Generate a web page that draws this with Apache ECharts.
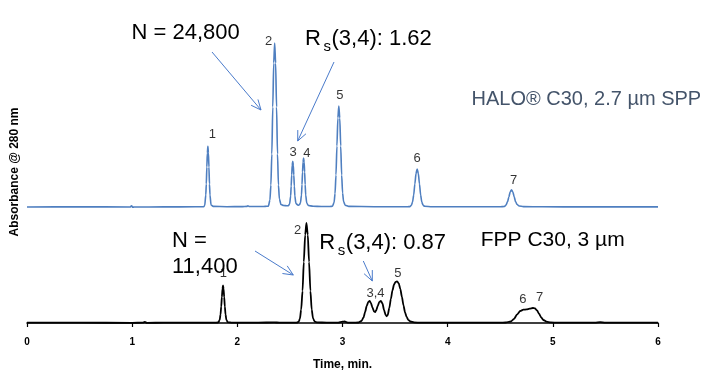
<!DOCTYPE html>
<html><head><meta charset="utf-8">
<script src="https://cdn.jsdelivr.net/npm/echarts@6/dist/echarts.min.js"></script>
<style>html,body{margin:0;padding:0;background:#fff}#c{width:714px;height:374px}</style>
</head><body><div id="c"></div>
<script>
// ---------- data ----------
const timeTicks = [0, 1, 2, 3, 4, 5, 6];

// HALO C30, 2.7 um SPP trace: [time (min), absorbance (arb.)]
const haloTrace = [
  [0,0],[0.5,0.2],[0.98,0],[0.995,1.2],[1.005,-0.3],[1.02,0],[1.3,0.1],[1.6,0.2],[1.68,0.3],
  [1.69,1.5],[1.70,12],[1.705,23],[1.71,40],[1.715,54],[1.72,60.6],[1.725,54],[1.73,40],[1.735,23],[1.74,12],[1.75,2],[1.77,0.6],
  [1.9,0.3],[2.05,0.4],[2.09,0.6],[2.1,1.3],[2.115,0.5],[2.25,0.5],[2.28,0.7],
  [2.295,0.8],[2.31,7],[2.319,22],[2.328,53],[2.337,100],[2.346,144],[2.355,164],[2.364,144],[2.373,100],[2.382,53],[2.391,22],[2.40,8],[2.415,2.5],
  [2.44,1.5],[2.47,1.2],
  [2.485,1.3],[2.497,3],[2.507,11],[2.512,21],[2.517,32],[2.522,42],[2.527,45.6],[2.532,42],[2.537,32],[2.542,21],[2.547,11],[2.557,3.5],
  [2.578,1.7],
  [2.59,2.2],[2.60,4],[2.61,12],[2.615,22.5],[2.62,35],[2.625,45],[2.63,49],[2.635,45],[2.64,35],[2.645,22.5],[2.65,12],[2.66,4],[2.675,1.5],
  [2.72,0.8],[2.8,0.5],[2.88,0.5],
  [2.905,0.8],[2.92,4.5],[2.929,13.5],[2.938,32],[2.947,61],[2.956,89],[2.965,101],[2.974,89],[2.983,61],[2.992,32],[3.001,14],[3.01,5.5],[3.025,1.8],
  [3.06,0.6],[3.3,0.3],[3.5,0.3],[3.62,0.3],
  [3.64,0.4],[3.655,1.7],[3.666,5],[3.677,12],[3.688,23],[3.699,33.5],[3.71,38],[3.721,33.5],[3.732,23],[3.743,12],[3.754,5],[3.765,2],[3.78,0.7],
  [3.85,0.3],[4.2,0.2],[4.5,0.3],
  [4.54,0.5],[4.555,2],[4.57,5.5],[4.582,10],[4.594,15],[4.607,17.3],[4.62,15],[4.632,10.5],[4.645,5.5],[4.66,2.5],[4.68,1],[4.72,0.4],
  [4.9,0.2],[5.3,0.1],[5.7,0.1],[6.0,0.1]
];

// FPP C30, 3 um trace
const fppTrace = [
  [0,0.3],[0.5,0.3],[1.0,0.2],[1.1,0.3],[1.12,1],[1.14,0.2],[1.3,0.3],[1.6,0.3],[1.8,0.4],
  [1.82,0.6],[1.832,3],[1.84,8.5],[1.847,16.5],[1.853,26],[1.859,34],[1.864,37.7],[1.869,34],[1.875,26],[1.881,16.5],[1.888,8.5],[1.896,3],[1.91,0.8],
  [1.95,0.4],[2.2,0.4],[2.35,0.6],[2.4,0.4],[2.55,0.4],
  [2.57,0.5],[2.585,1.5],[2.595,4.4],[2.607,13.5],[2.62,32],[2.632,61],[2.645,88],[2.657,100],[2.67,88],[2.682,61],[2.695,32],[2.707,13.5],[2.72,4.5],[2.735,1.5],[2.76,0.6],
  [2.85,0.4],[2.96,0.3],[3.0,1.3],[3.02,1.5],[3.05,0.4],[3.1,0.4],
  [3.15,0.5],[3.18,2],[3.2,5.5],[3.215,11],[3.23,17],[3.245,21],[3.257,22],[3.27,20],[3.285,15.5],[3.3,11.5],[3.31,11],[3.32,12.5],[3.335,17],[3.35,21],[3.365,22],[3.38,19.5],[3.395,13],[3.41,8],[3.42,6.7],
  [3.43,8],[3.445,15],[3.46,24],[3.475,32.5],[3.49,38.5],[3.505,41.2],[3.52,41.7],[3.535,39.5],[3.55,34],[3.565,26],[3.58,17.5],[3.595,10.5],[3.61,6],[3.625,3.2],[3.645,1.5],[3.68,0.6],[3.75,0.3],
  [3.9,0.3],[4.3,0.3],[4.5,0.4],
  [4.55,0.5],[4.6,1.5],[4.63,4],[4.66,8.5],[4.69,12],[4.72,13.3],[4.75,13.6],[4.78,14.3],[4.81,15],[4.83,14.6],[4.85,12.5],[4.87,9],[4.89,5.5],[4.91,3],[4.94,1.3],[4.98,0.6],[5.05,0.3],
  [5.2,0.3],[5.4,0.4],[5.45,0.8],[5.5,0.4],[5.8,0.3],[6.0,0.3]
];

// peak labels: [label, time, height]
const haloPeaks = [['1',1.72,60.6],['2',2.355,164],['3',2.527,45.6],['4',2.63,49],['5',2.965,101],['6',3.71,38],['7',4.607,17.3]];
const fppPeaks  = [['1',1.864,37.7],['2',2.657,100],['3,4',3.257,22],['5',3.52,41.7],['6',4.73,13.4],['7',4.82,15]];

// ---------- layout / style ----------
const haloLabelOffset = [[4.6,-11.7],[-6,-1.6],[0.4,-9],[3.4,-4.3],[1,-11],[0,-10.3],[2,-9.3]];
const fppLabelOffset  = [[0.3,-12],[-8.7,7.3],[6,-7.7],[0.6,-8.3],[-1.6,-10.3],[5.7,-10.4]];
const BLUE = '#4f7fc0';
const ARROW = '#4a7bcb';
const FONT = '"Liberation Sans", Arial, sans-serif';

function labelSeries(peaks, offs, xi, yi) {
  return {
    type: 'scatter', xAxisIndex: xi, yAxisIndex: yi, z: 5,
    symbol: 'circle', symbolSize: 0.001, itemStyle: { color: 'rgba(0,0,0,0)' },
    silent: true,
    data: peaks.map((p, i) => ({
      value: [p[1], p[2]],
      label: { show: true, position: 'inside', formatter: p[0], offset: offs[i],
               color: '#000', fontSize: 13, fontFamily: FONT }
    }))
  };
}

function arrow(x1, y1, x2, y2) {
  const dx = x2 - x1, dy = y2 - y1, L = Math.hypot(dx, dy), ux = dx / L, uy = dy / L;
  const hl = 10, hw = 4.5, bx = x2 - ux * hl, by = y2 - uy * hl;
  return [
    { type: 'line', shape: { x1, y1, x2, y2 }, style: { stroke: ARROW, lineWidth: 1 } },
    { type: 'polyline', shape: { points: [[bx - uy * hw, by + ux * hw], [x2, y2], [bx + uy * hw, by - ux * hw]] },
      style: { stroke: ARROW, lineWidth: 1, fill: null } }
  ];
}
function txt(s, x, y, size, color, weight) {
  return { type: 'text', x, y, z: 10,
    style: { text: s, font: (weight || 'normal') + ' ' + size + 'px ' + FONT, fill: color || '#000',
             align: 'left', verticalAlign: 'middle', textAlign: 'left', textVerticalAlign: 'middle' } };
}

const chart = echarts.init(document.getElementById('c'), null, { renderer: 'canvas' });
const graphics = [].concat(
  arrow(212, 52, 261, 110),
  arrow(334, 62, 297.7, 141),
  arrow(255, 251, 293.3, 275),
  arrow(363.3, 261, 372.3, 281),
  [
    txt('N = 24,800', 131.5, 33, 22),
    txt('R', 305, 39, 22), txt('s', 323.5, 46.5, 15), txt('(3,4): 1.62', 331.5, 39, 22),
    txt('HALO\u00AE C30, 2.7 \u00B5m SPP', 471.5, 99.7, 20, '#44546a'),
    txt('N =', 172, 240.6, 22),
    txt('11,400', 172, 267.3, 22),
    txt('R', 319.3, 243, 22), txt('s', 337.8, 250.5, 15), txt('(3,4): 0.87', 345.8, 243, 22),
    txt('FPP C30, 3 \u00B5m', 480.7, 240, 21),
    { type: 'text', x: 15, y: 172, rotation: Math.PI / 2, z: 10,
      style: { text: 'Absorbance @ 280 nm', font: 'bold 12px ' + FONT, fill: '#000',
               align: 'center', verticalAlign: 'middle', textAlign: 'center', textVerticalAlign: 'middle' } }
  ]
);

chart.setOption({
  animation: false,
  backgroundColor: '#fff',
  grid: [
    { left: 27, right: 56, top: 40, height: 170 },
    { left: 27, right: 56, top: 215, height: 111 }
  ],
  xAxis: [
    { gridIndex: 0, type: 'value', min: 0, max: 6, interval: 1, show: false },
    { gridIndex: 1, type: 'value', min: 0, max: 6, interval: 1,
      axisLine: { show: true, lineStyle: { color: '#000', width: 1.5 } },
      axisTick: { show: true, length: 4, lineStyle: { color: '#000', width: 1.2 } },
      splitLine: { show: false },
      axisLabel: { margin: 11, color: '#000', fontSize: 10, fontWeight: 'bold', fontFamily: FONT,
                   formatter: v => timeTicks.includes(v) ? String(v) : '' },
      name: 'Time, min.', nameLocation: 'middle', nameGap: 33,
      nameTextStyle: { color: '#000', fontSize: 12, fontWeight: 'bold', fontFamily: FONT } }
  ],
  yAxis: [
    { gridIndex: 0, type: 'value', min: -3, max: 167, show: false },
    { gridIndex: 1, type: 'value', min: -3, max: 108, show: false }
  ],
  series: [
    { type: 'line', xAxisIndex: 0, yAxisIndex: 0, data: haloTrace, showSymbol: false, clip: false,
      smooth: 0.25, smoothMonotone: 'x', lineStyle: { color: BLUE, width: 1.6 }, silent: true },
    { type: 'line', xAxisIndex: 1, yAxisIndex: 1, data: fppTrace, showSymbol: false, clip: false,
      smooth: 0.25, smoothMonotone: 'x', lineStyle: { color: '#000', width: 1.8 }, silent: true },
    labelSeries(haloPeaks, haloLabelOffset, 0, 0),
    labelSeries(fppPeaks, fppLabelOffset, 1, 1)
  ],
  graphic: graphics
});
</script>
</body></html>
